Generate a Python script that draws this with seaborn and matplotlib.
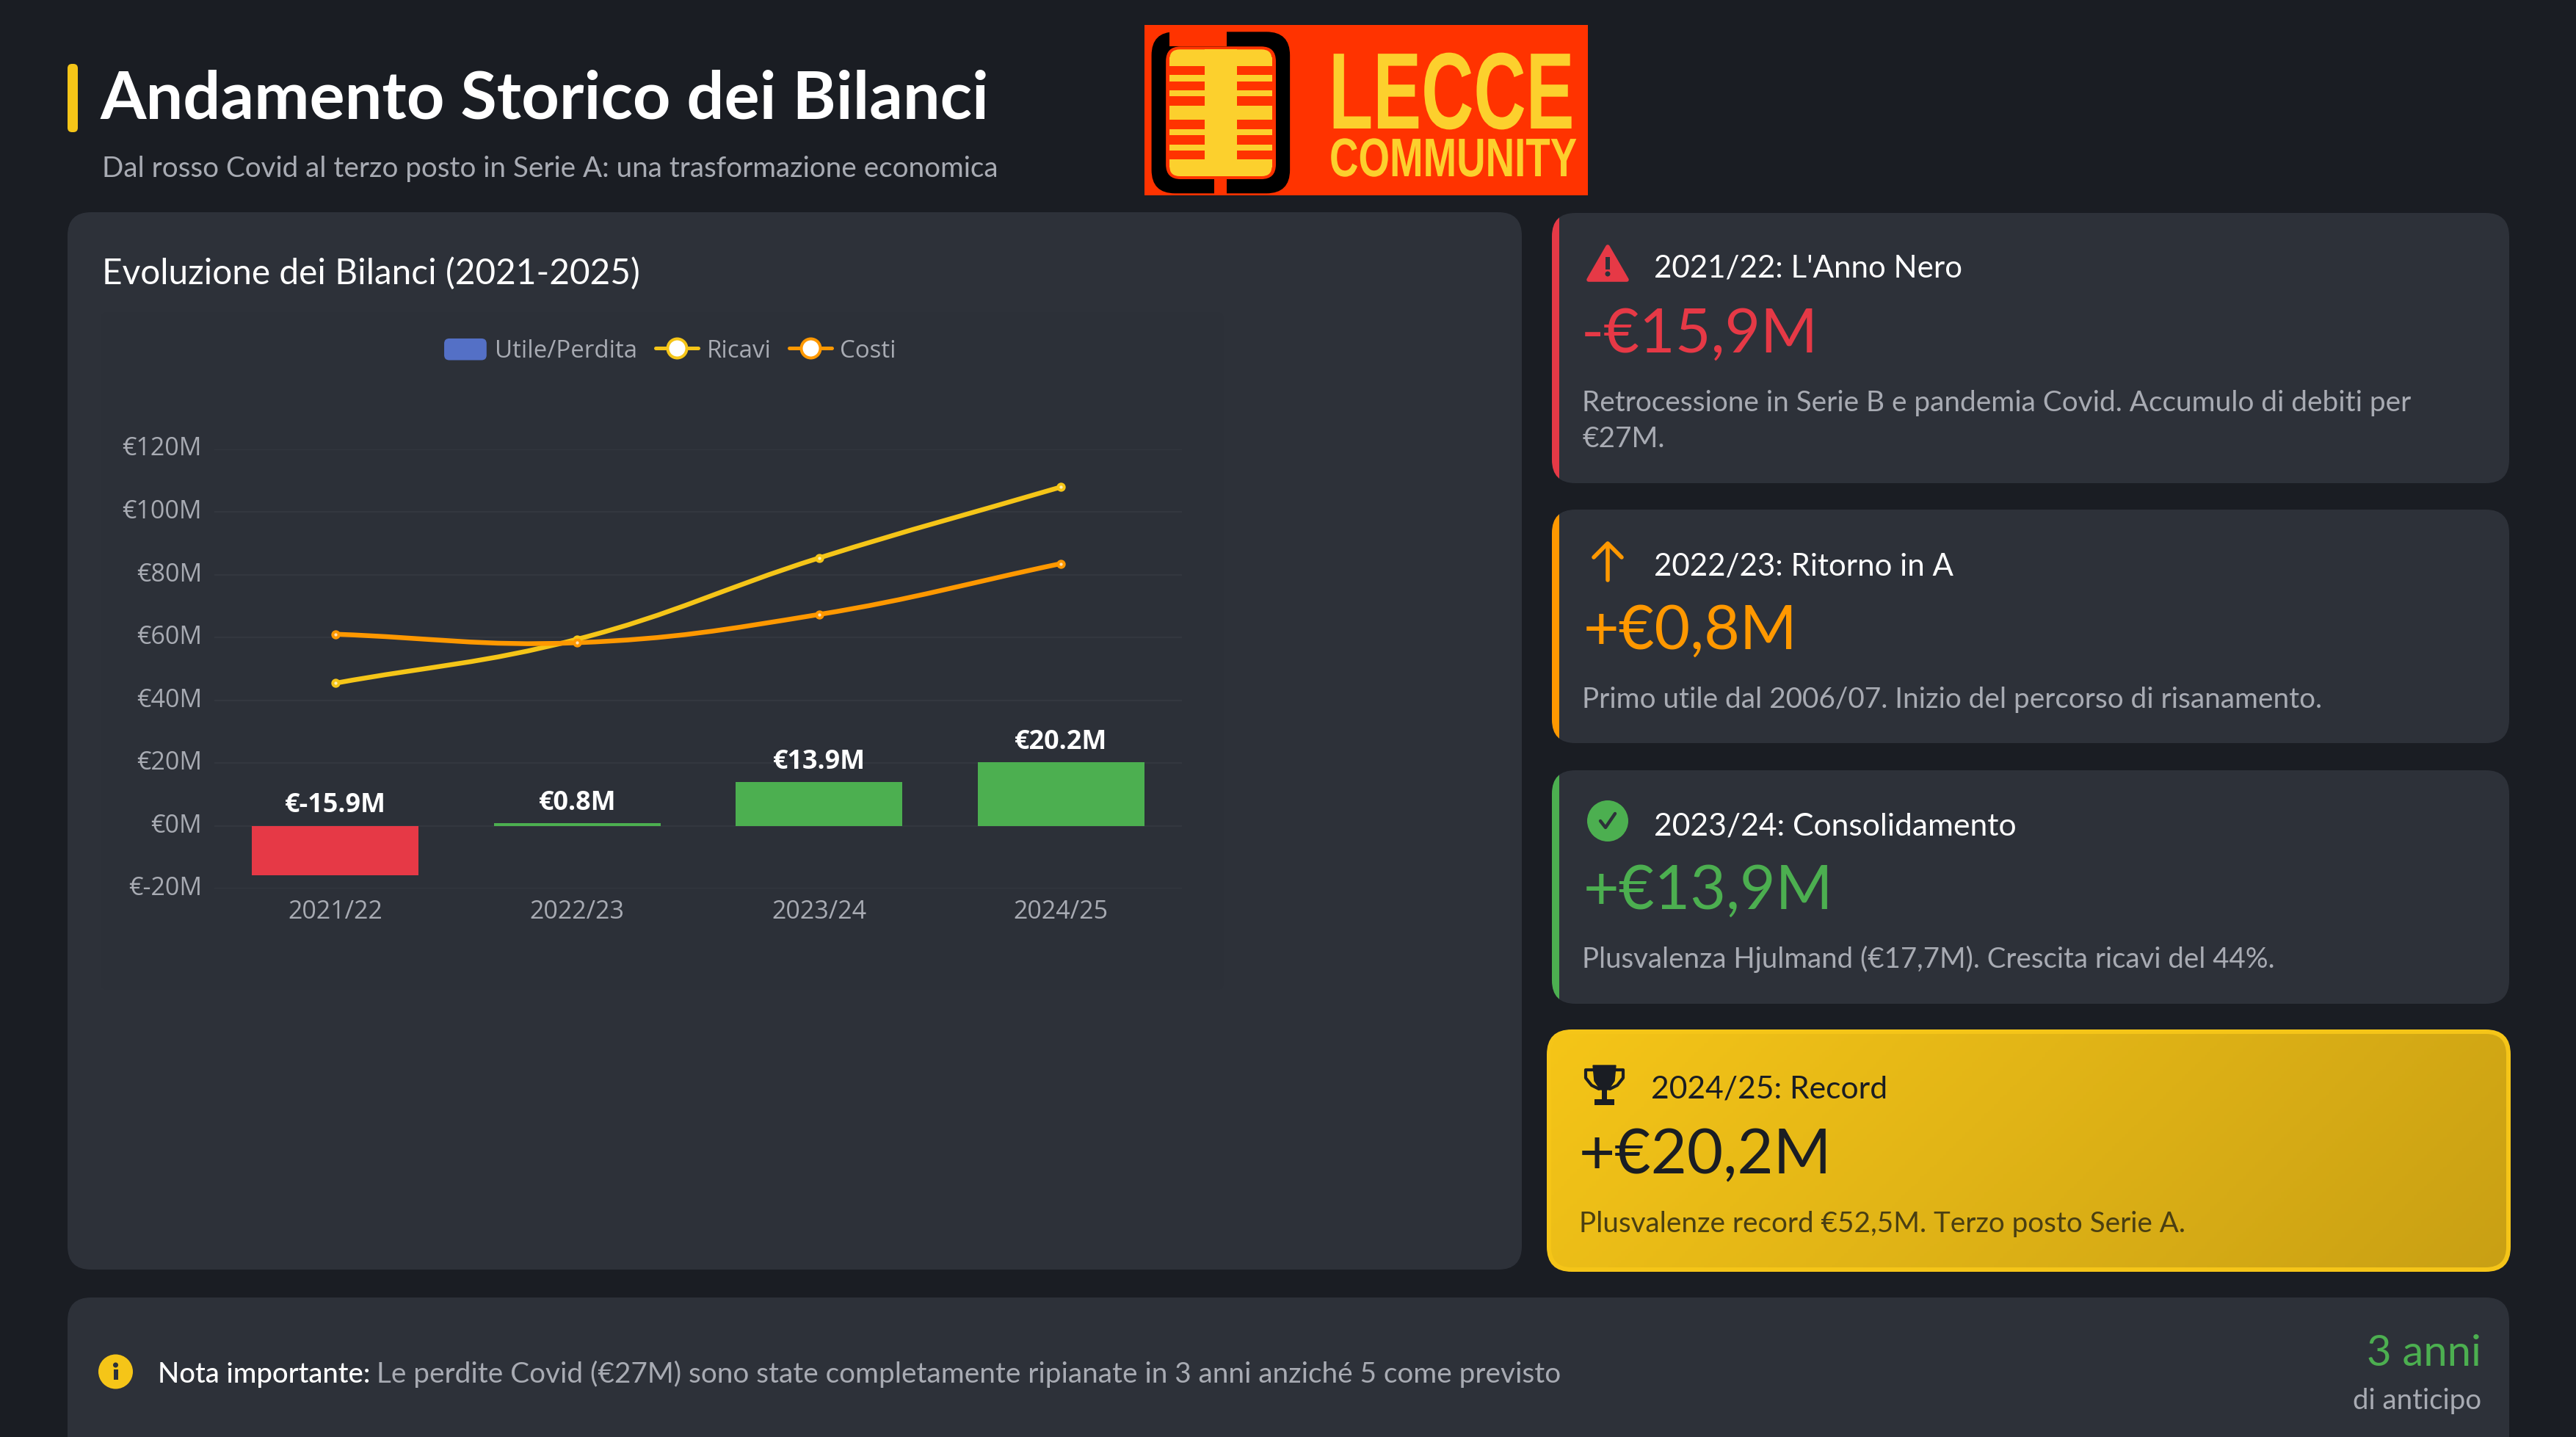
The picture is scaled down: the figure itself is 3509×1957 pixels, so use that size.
import numpy as np
import seaborn as sns
import matplotlib.pyplot as plt
from matplotlib.patches import FancyBboxPatch, Rectangle, Circle, Polygon, PathPatch, Patch
from matplotlib.path import Path
from matplotlib.lines import Line2D
from matplotlib.transforms import Affine2D, ScaledTranslation
from matplotlib.patheffects import AbstractPathEffect
from matplotlib.legend_handler import HandlerPatch

# chart values
seasons = ['2021/22', '2022/23', '2023/24', '2024/25']
utile = [-15.9, 0.8, 13.9, 20.2]
ricavi = [45.4, 59.4, 85.3, 107.9]
costi = [61.0, 58.3, 67.3, 83.5]
y_ticks = [-20, 0, 20, 40, 60, 80, 100, 120]

BG = '#1a1d23'
PANEL = '#2d3139'
RED = '#e63946'
ORANGE = '#ff9800'
GREEN = '#4caf50'
YELLOW = '#f5c518'
MUTED = '#a8abb3'
TICK = '#a8abb3'
DARK = '#1a1d23'
LOGO_RED = '#ff3300'
LOGO_YEL = '#fcd02d'

bar_colors = [RED, GREEN, GREEN, GREEN]

W, H = 3509, 1957
sns.set_theme(style='dark')
plt.rcParams['font.family'] = ['Lato', 'DejaVu Sans']
CHART_FONT = ['Open Sans', 'DejaVu Sans']

fig = plt.figure(figsize=(W / 100, H / 100), dpi=100, facecolor=BG)

# full figure layer in pixel units, for the cards and all loose text
bg = fig.add_axes([0, 0, 1, 1], zorder=0)
bg.set_xlim(0, W)
bg.set_ylim(H, 0)
bg.axis('off')


def px(size):
    return size * 72 / 100


def card(x0, y0, x1, y1, r=32, color=PANEL, **kw):
    p = FancyBboxPatch((x0 + r, y0 + r), x1 - x0 - 2 * r, y1 - y0 - 2 * r,
                       boxstyle=f'round,pad={r},rounding_size={r}',
                       fc=color, ec='none', **kw)
    bg.add_patch(p)
    return p


def txt(x, y, s, size, color='white', weight='normal', ha='left'):
    return bg.text(x, y, s, fontsize=px(size), color=color, fontweight=weight,
                   ha=ha, va='baseline', zorder=6)


def accent_card(y0, y1, color):
    p = card(2114, y0, 3418, y1)
    bar = Rectangle((2114, y0), 10, y1 - y0, fc=color, ec='none', zorder=2)
    bg.add_patch(bar)
    bar.set_clip_path(p)


# header
card(92, 87, 106, 180, r=6, color=YELLOW)
txt(136, 161, 'Andamento Storico dei Bilanci', 90, weight='bold')
txt(139, 241, 'Dal rosso Covid al terzo posto in Serie A: una trasformazione economica', 38.6, MUTED)


# logo, coordinates taken from a 2.45 x 3 zoom of it
def lx(v):
    return 1540 + v / 2.45


def ly(v):
    return 20 + v / 3


def lrect(x0, y0, x1, y1, color, r=0):
    if r:
        card(lx(x0), ly(y0), lx(x1), ly(y1), r=r, color=color, zorder=3)
    else:
        bg.add_patch(Rectangle((lx(x0), ly(y0)), lx(x1) - lx(x0), ly(y1) - ly(y0),
                               fc=color, ec='none', zorder=3))


class TallText(AbstractPathEffect):
    # stretches the glyphs upward, the logo lettering is far more condensed than any installed font
    def __init__(self, sy):
        super().__init__()
        self.sy = sy

    def draw_path(self, renderer, gc, tpath, affine, rgbFace=None):
        renderer.draw_path(gc, tpath, Affine2D().scale(1, self.sy) + affine, rgbFace)


def fit_text(x, y, s, width, cap, color):
    t = bg.text(x, y, s, fontsize=40, color=color, fontweight='bold',
                family=['Liberation Sans', 'DejaVu Sans'], va='baseline', zorder=6)
    ext = t.get_window_extent(fig.canvas.get_renderer())
    size = 40 * width / ext.width
    t.set_fontsize(size)
    t.set_path_effects([TallText(cap / (size * 100 / 72 * 0.716))])
    return t


bg.add_patch(Rectangle((1559, 34), 604, 232, fc=LOGO_RED, ec='none', zorder=2))
lrect(70, 70, 532, 730, 'black', r=32)
lrect(130, 60, 320, 130, LOGO_RED)
lrect(280, 670, 320, 738, LOGO_RED)
lrect(118, 130, 485, 672, LOGO_RED, r=20)
lrect(130, 142, 472, 210, LOGO_YEL, r=14)
lrect(130, 175, 472, 210, LOGO_YEL)
lrect(130, 592, 472, 660, LOGO_YEL, r=14)
lrect(130, 592, 472, 625, LOGO_YEL)
lrect(247, 142, 355, 660, LOGO_YEL)
for b0, b1 in [(246, 272), (310, 334), (372, 430), (468, 492), (530, 556)]:
    lrect(130, b0, 472, b1, LOGO_YEL)
fit_text(1810, 175, 'LECCE', 334, 106, LOGO_YEL)
fit_text(1811, 240, 'COMMUNITY', 337, 53, LOGO_YEL)

# panels
card(92, 289, 2073, 1729)
card(137, 425, 1667, 1348, r=10, color='#2c3038')
txt(139, 387, 'Evoluzione dei Bilanci (2021-2025)', 47.7)

accent_card(290, 658, RED)
accent_card(694, 1012, ORANGE)
accent_card(1049, 1367, GREEN)

# gold card with its diagonal gradient and border
gold_edge = card(2107, 1402, 3420, 1732, r=34, color=YELLOW)
gold = card(2113, 1408, 3414, 1726, r=28, color=YELLOW)
gx, gy = np.meshgrid(np.linspace(0, 1, 300), np.linspace(0, 1, 100))
top = np.array([0xf5, 0xc5, 0x18]) / 255
end = np.array([0xc9, 0xa0, 0x14]) / 255
mix = ((gx * 1301 + gy * 318) / (1301 + 318))[..., None]
im = bg.imshow(top + (end - top) * mix, extent=(2113, 3414, 1726, 1408), aspect='auto', zorder=2)
im.set_clip_path(gold)
bg.set_xlim(0, W)
bg.set_ylim(H, 0)

# note panel runs off the bottom of the picture
card(92, 1767, 3418, 2020)

# card texts
txt(2253, 378, "2021/22: L'Anno Nero", 42)
txt(2154, 480, '-€15,9M', 84, RED)
txt(2155, 560, 'Retrocessione in Serie B e pandemia Covid. Accumulo di debiti per', 38.8, MUTED)
txt(2155, 609, '€27M.', 38.8, MUTED)

txt(2253, 783, '2022/23: Ritorno in A', 42)
txt(2157, 884, '+€0,8M', 84, ORANGE)
txt(2155, 964, 'Primo utile dal 2006/07. Inizio del percorso di risanamento.', 38.8, MUTED)

txt(2253, 1137, '2023/24: Consolidamento', 42.6)
txt(2157, 1238, '+€13,9M', 84, GREEN)
txt(2155, 1318, 'Plusvalenza Hjulmand (€17,7M). Crescita ricavi del 44%.', 38.4, MUTED)

txt(2249, 1495, '2024/25: Record', 42.6, DARK)
txt(2151, 1598, '+€20,2M', 85, DARK)
txt(2151, 1678, 'Plusvalenze record €52,5M. Terzo posto Serie A.', 38.6, '#4a3f12')

# note texts
txt(215, 1883, 'Nota importante:', 38.3, weight='medium')
txt(513, 1883, 'Le perdite Covid (€27M) sono state completamente ripianate in 3 anni anziché 5 come previsto', 38.75, MUTED)
txt(3380, 1860, '3 anni', 58, GREEN, ha='right')
txt(3380, 1919, 'di anticipo', 38.5, MUTED, ha='right')

# icons
bg.add_patch(Polygon([(2190, 336), (2216, 381), (2164, 381)], closed=True, fc=RED, ec=RED,
                     lw=4, joinstyle='round', zorder=4))
bg.add_patch(Rectangle((2187, 350), 6, 17, fc=PANEL, ec='none', zorder=5))
bg.add_patch(Circle((2190, 373), 3.5, fc=PANEL, ec='none', zorder=5))

bg.plot([2190, 2190], [741, 790], color=ORANGE, lw=4, solid_capstyle='round', zorder=4)
bg.plot([2171, 2190, 2209], [759, 740, 759], color=ORANGE, lw=4, solid_capstyle='round',
        solid_joinstyle='round', zorder=4)

bg.add_patch(Circle((2190, 1118), 28, fc=GREEN, ec='none', zorder=4))
bg.plot([2180, 2187, 2200], [1118, 1127, 1108], color=PANEL, lw=3.2, solid_capstyle='round', zorder=5)

# trophy
bg.add_patch(Polygon([(2170, 1451), (2201, 1451), (2199, 1472), (2191, 1484), (2180, 1484), (2172, 1472)],
                     closed=True, fc=DARK, ec=DARK, lw=1, zorder=4))
bg.plot([2171, 2160, 2160, 2168, 2178], [1457, 1457, 1468, 1478, 1483], color=DARK, lw=3, zorder=4)
bg.plot([2200, 2211, 2211, 2203, 2193], [1457, 1457, 1468, 1478, 1483], color=DARK, lw=3, zorder=4)
bg.add_patch(Rectangle((2182, 1484), 7, 14, fc=DARK, ec='none', zorder=4))
bg.add_patch(Rectangle((2172, 1497), 27, 8, fc=DARK, ec='none', zorder=4))

bg.add_patch(Circle((157.5, 1868), 23.5, fc=YELLOW, ec='none', zorder=4))
bg.add_patch(Circle((157.5, 1859), 3.5, fc=PANEL, ec='none', zorder=5))
bg.add_patch(Rectangle((154.5, 1865), 6, 14, fc=PANEL, ec='none', zorder=5))

# the chart itself, axes placed so the scale lands on the reference pixels
ax = fig.add_axes([292 / W, 1 - 1210 / H, (1610 - 292) / W, (1210 - 611.5) / H], zorder=2)
ax.patch.set_alpha(0)

sns.barplot(x=seasons, y=utile, hue=seasons, palette=bar_colors, legend=False,
            width=0.69, saturation=1, linewidth=0, ax=ax, zorder=2)


def smooth_path(values, tension=0.4):
    # same bezier smoothing as the original chart's tension setting
    pts = np.column_stack([np.arange(len(values)), values]).astype(float)
    scale = np.array([329.5, 4.275])
    verts = [tuple(pts[0])]
    codes = [Path.MOVETO]
    ctrl = []
    for i in range(len(pts)):
        prev = pts[max(i - 1, 0)]
        nxt = pts[min(i + 1, len(pts) - 1)]
        d0 = np.linalg.norm((pts[i] - prev) * scale)
        d1 = np.linalg.norm((nxt - pts[i]) * scale)
        fa = tension * d0 / (d0 + d1)
        fb = tension * d1 / (d0 + d1)
        ctrl.append((pts[i] - fa * (nxt - prev), pts[i] + fb * (nxt - prev)))
    for i in range(1, len(pts)):
        verts += [tuple(ctrl[i - 1][1]), tuple(ctrl[i][0]), tuple(pts[i])]
        codes += [Path.CURVE4] * 3
    return Path(verts, codes)


x_pos = np.arange(len(seasons))
for values, color, tip in [(ricavi, YELLOW, '#ffeeb0'), (costi, ORANGE, '#ffe0b0')]:
    ax.add_patch(PathPatch(smooth_path(values), fill=False, ec=color, lw=px(6.5), zorder=3, capstyle='round'))
    sns.scatterplot(x=x_pos, y=values, s=36, color=tip, edgecolor=color, linewidth=px(4),
                    legend=False, ax=ax, zorder=4, clip_on=False)

for i, v in enumerate(utile):
    ax.annotate(f'€{v}M', (i, max(v, 0)), xytext=(0, px(18)), textcoords='offset points',
                ha='center', va='baseline', color='white', fontweight='bold', fontsize=px(36),
                family=CHART_FONT)

ax.set_xlim(-0.5, 3.5)
ax.set_ylim(-20, 120)
ax.set_xticks(x_pos, seasons)
ax.set_yticks(y_ticks, [f'€{v}M' for v in y_ticks])
ax.set_xlabel('')
ax.set_ylabel('')
ax.tick_params(axis='both', length=0, labelcolor=TICK, labelsize=px(34))
ax.tick_params(axis='x', pad=px(15))
ax.tick_params(axis='y', pad=px(17))
for lab in ax.get_xticklabels() + ax.get_yticklabels():
    lab.set_family(CHART_FONT)
for lab in ax.get_yticklabels():
    lab.set_transform(lab.get_transform() + ScaledTranslation(0, 0.04, fig.dpi_scale_trans))
ax.grid(axis='y', color='#33373f', lw=px(2))
ax.grid(axis='x', visible=False)
ax.set_axisbelow(True)
sns.despine(ax=ax, left=True, bottom=True)


def round_swatch(legend, orig_handle, xdescent, ydescent, width, height, fontsize):
    return FancyBboxPatch((-xdescent + 4, -ydescent + 4), width - 8, height - 8,
                          boxstyle='round,pad=4,rounding_size=5')


handles = [
    Patch(fc='#5470c6', ec='none', label='Utile/Perdita'),
    Line2D([], [], color=YELLOW, lw=px(5), marker='o', ms=px(26), mfc='white', mec=YELLOW,
           mew=px(4), label='Ricavi'),
    Line2D([], [], color=ORANGE, lw=px(5), marker='o', ms=px(26), mfc='white', mec=ORANGE,
           mew=px(4), label='Costi'),
]
fig.legend(handles=handles, loc='center', bbox_to_anchor=(913 / W, 1 - 478 / H), ncol=3,
           frameon=False, prop={'family': CHART_FONT, 'size': px(33)}, labelcolor=TICK,
           handlelength=1.75, handleheight=1.0, handletextpad=0.35, columnspacing=0.75, borderpad=0,
           handler_map={Patch: HandlerPatch(patch_func=round_swatch)})

fig.savefig('out.png', dpi=100, facecolor=BG)
